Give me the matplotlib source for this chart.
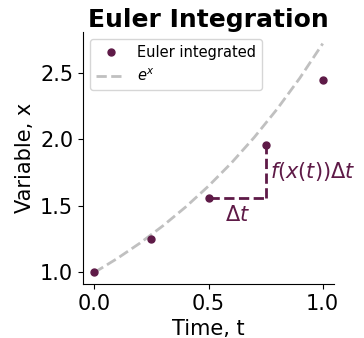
import matplotlib
matplotlib.use('Agg')
import matplotlib.pyplot as plt

# Euler integrated points (dt = 0.25)
t_euler = [0.0, 0.25, 0.5, 0.75, 1.0]
x_euler = [1.0, 1.25, 1.5625, 1.953, 2.441]

# e^x reference curve, sampled
t_exact = [0.0, 0.1, 0.2, 0.3, 0.4, 0.5, 0.6, 0.7, 0.8, 0.9, 1.0]
x_exact = [1.0, 1.105, 1.221, 1.350, 1.492, 1.649, 1.822, 2.014, 2.226, 2.460, 2.718]

purple = '#5e1a47'
grey = '#c0c0c0'

fig = plt.figure(figsize=(3.64, 3.38), dpi=100)
ax = fig.add_axes([0.228, 0.160, 0.690, 0.745])

ax.plot(t_euler, x_euler, 'o', color=purple, markersize=5, label='Euler integrated', zorder=3)
ax.plot(t_exact, x_exact, '--', color=grey, linewidth=2, label='$e^x$', zorder=1)

# dt step annotation between 3rd and 4th point
ax.plot([t_euler[2], t_euler[3]], [x_euler[2], x_euler[2]], '--', color=purple, linewidth=2)
ax.plot([t_euler[3], t_euler[3]], [x_euler[2], x_euler[3]], '--', color=purple, linewidth=2)
ax.text(0.625, 1.51, r'$\Delta t$', color=purple, fontsize=15, ha='center', va='top')
ax.text(0.77, 1.76, r'$f(x(t))\Delta t$', color=purple, fontsize=15, ha='left', va='center')

ax.set_title('Euler Integration', fontsize=18, fontweight='bold', pad=3)
ax.set_xlabel('Time, t', fontsize=15)
ax.set_ylabel('Variable, x', fontsize=15)
ax.set_xticks([0.0, 0.5, 1.0])
ax.set_yticks([1.0, 1.5, 2.0, 2.5])
ax.tick_params(labelsize=15)
ax.spines['top'].set_visible(False)
ax.spines['right'].set_visible(False)
ax.legend(loc='upper left', fontsize=10.5)

plt.savefig('out.png', dpi=100)
